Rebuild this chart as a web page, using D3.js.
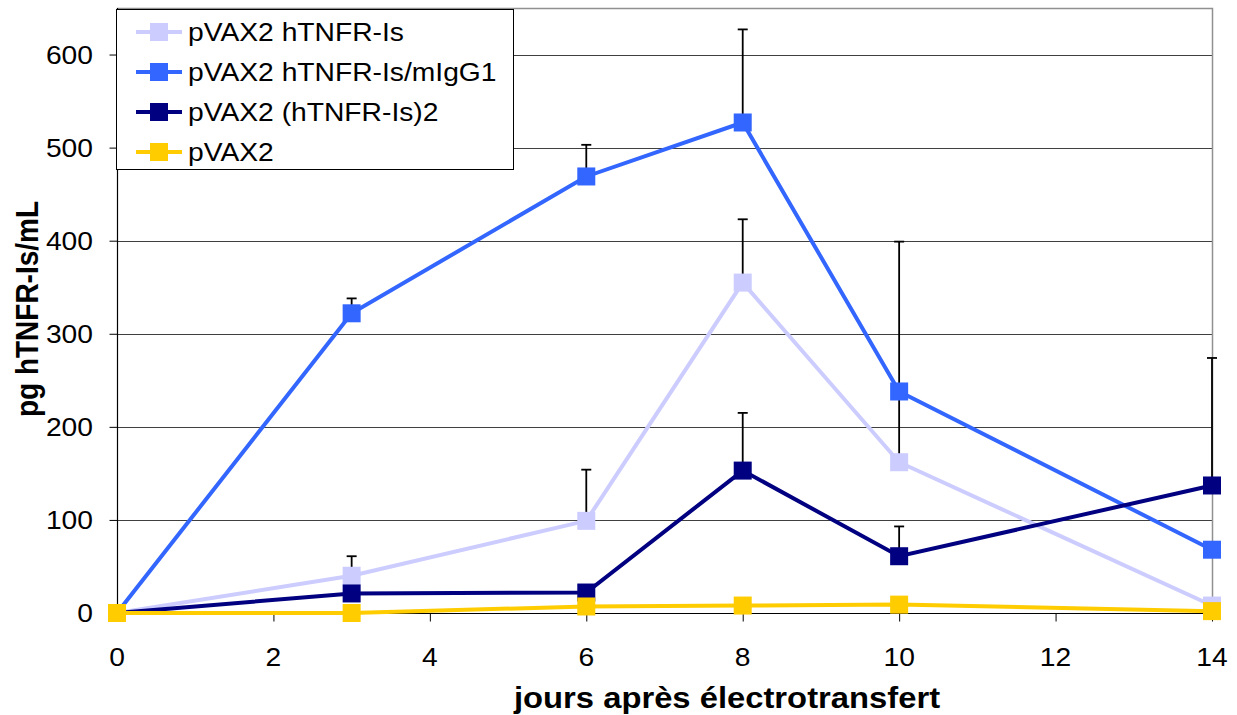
<!DOCTYPE html>
<html>
<head>
<meta charset="utf-8">
<script src="https://cdn.jsdelivr.net/npm/d3@7"></script>
<style>
html,body{margin:0;padding:0;background:#fff;}
svg{display:block;}
text{font-family:"Liberation Sans",Arial,sans-serif;fill:#000;}
</style>
</head>
<body>
<svg id="chart" width="1237" height="715"></svg>
<script>
// ---- data ----
const days = [0, 3, 6, 8, 10, 14];
const seriesNames = ["pVAX2 hTNFR-Is", "pVAX2 hTNFR-Is/mIgG1", "pVAX2 (hTNFR-Is)2", "pVAX2"];
const seriesColors = ["#CCCCFF", "#3366FF", "#000080", "#FFCC00"];
const lightVals = [0, 40, 99, 355, 162, 8];
const lightErr  = [0, 21, 55, 68, 78, 0];
const blueVals  = [0, 322, 469, 527, 238, 68];
const blueErr   = [0, 16, 34, 100, 161, 0];
const navyVals  = [0, 21, 22, 153, 61, 137];
const navyErr   = [0, 0, 8, 62, 32, 137];
const yellowVals = [0, 0, 7, 8, 9, 2];
const yellowErr  = [0, 0, 0, 0, 0, 0];
const xTicks = [0, 2, 4, 6, 8, 10, 12, 14];
const yTicks = [0, 100, 200, 300, 400, 500, 600];
const xTitle = "jours après électrotransfert";
const yTitle = "pg hTNFR-Is/mL";

const series = [
  {name: seriesNames[0], color: seriesColors[0], vals: lightVals, err: lightErr},
  {name: seriesNames[1], color: seriesColors[1], vals: blueVals, err: blueErr},
  {name: seriesNames[2], color: seriesColors[2], vals: navyVals, err: navyErr},
  {name: seriesNames[3], color: seriesColors[3], vals: yellowVals, err: yellowErr}
];

// ---- layout ----
const L = 117, R = 1212, T = 8, B = 613;
const SX = 1.13;
const svg = d3.select("#chart");
const x = d3.scaleLinear().domain([0, 14]).range([L, R]);
const y = d3.scaleLinear().domain([0, 650]).range([B, T]);

function stext(g, tx, ty, str, size, anchor, weight, rot) {
  return g.append("text")
    .attr("transform", `translate(${tx},${ty}) scale(${SX},1)` + (rot ? ` rotate(${rot})` : ""))
    .attr("text-anchor", anchor)
    .style("font-size", size + "px")
    .style("font-weight", weight || "normal")
    .text(str);
}

// gridlines
svg.append("g").selectAll("line").data(yTicks.filter(d => d > 0)).join("line")
  .attr("x1", L).attr("x2", R)
  .attr("y1", d => Math.round(y(d)) + 0.5).attr("y2", d => Math.round(y(d)) + 0.5)
  .attr("stroke", "#404040").attr("stroke-width", 1);

// plot border (top/right gray)
svg.append("path")
  .attr("d", `M${L},${T + 0.5}H${R + 0.5}V${B}`)
  .attr("fill", "none").attr("stroke", "#909090").attr("stroke-width", 1.5);

// axes
const yAxis = d3.axisLeft(y).tickValues(yTicks).tickSize(8).tickFormat("");
const gy = svg.append("g").attr("transform", `translate(${L + 0.5},0)`).call(yAxis);
gy.select(".domain").attr("stroke", "#000").attr("stroke-width", 1.2).attr("d", `M0,${T}V${B}`);
gy.selectAll(".tick line").attr("stroke", "#000");
const xAxis = d3.axisBottom(x).tickValues(xTicks).tickSize(8).tickFormat("");
const gx = svg.append("g").attr("transform", `translate(0,${B + 0.5})`).call(xAxis);
gx.select(".domain").attr("stroke", "#000").attr("stroke-width", 1.2).attr("d", `M${L},0H${R}`);
gx.selectAll(".tick line").attr("stroke", "#000");

// tick labels
const gl = svg.append("g");
yTicks.forEach(v => stext(gl, 93, y(v) + 9, String(v), 25, "end"));
xTicks.forEach(v => stext(gl, x(v), 666, String(v), 25, "middle"));

// titles
stext(gl, 727, 708, xTitle, 29, "middle", "bold");
stext(gl, 38, 309, yTitle, 28, "middle", "bold", -90);

// error bars (upper only)
const ge = svg.append("g");
series.forEach(s => {
  days.forEach((d, i) => {
    if (s.err[i] <= 0) return;
    const cx = x(d), y0 = y(s.vals[i]), y1 = y(s.vals[i] + s.err[i]);
    ge.append("line").attr("x1", cx).attr("x2", cx).attr("y1", y0).attr("y2", y1)
      .attr("stroke", "#000").attr("stroke-width", 1.8);
    ge.append("line").attr("x1", cx - 5).attr("x2", cx + 5).attr("y1", y1).attr("y2", y1)
      .attr("stroke", "#000").attr("stroke-width", 1.8);
  });
});

// lines and markers
const line = d3.line().x((d, i) => x(days[i])).y(d => y(d));
const MS = 18;
series.forEach(s => {
  const g = svg.append("g");
  g.append("path").datum(s.vals).attr("d", line)
    .attr("fill", "none").attr("stroke", s.color).attr("stroke-width", 4)
    .attr("stroke-linejoin", "miter");
  g.selectAll("rect").data(s.vals).join("rect")
    .attr("x", (d, i) => x(days[i]) - MS / 2)
    .attr("y", d => y(d) - MS / 2)
    .attr("width", MS).attr("height", MS)
    .attr("fill", s.color);
});

// legend
const lg = svg.append("g");
lg.append("rect").attr("x", 116.5).attr("y", 9.5).attr("width", 397).attr("height", 160)
  .attr("fill", "#fff").attr("stroke", "#000").attr("stroke-width", 1);
series.forEach((s, i) => {
  const cy = 32 + i * 40;
  lg.append("line").attr("x1", 136).attr("x2", 182).attr("y1", cy).attr("y2", cy)
    .attr("stroke", s.color).attr("stroke-width", 4);
  lg.append("rect").attr("x", 159 - MS / 2).attr("y", cy - MS / 2)
    .attr("width", MS).attr("height", MS).attr("fill", s.color);
  stext(lg, 188, cy + 9, s.name, 25, "start");
});
</script>
</body>
</html>
